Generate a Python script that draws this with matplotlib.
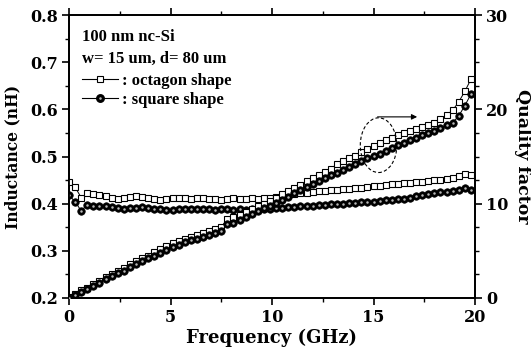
import numpy as np
import matplotlib
matplotlib.use("Agg")
import matplotlib.pyplot as plt
from matplotlib.lines import Line2D
from matplotlib.patches import Ellipse
from matplotlib.legend_handler import HandlerTuple
from matplotlib.ticker import MultipleLocator

# ---------------- data ----------------
freq_ghz = np.round(np.arange(0, 19.81, 0.3), 1)  # measurement sweep, 0.3 GHz step

L_octagon = [0.446, 0.435, 0.413, 0.422, 0.420, 0.419, 0.416, 0.413, 0.410, 0.413,
             0.414, 0.416, 0.414, 0.411, 0.410, 0.408, 0.410, 0.411, 0.412, 0.411,
             0.410, 0.413, 0.411, 0.410, 0.410, 0.407, 0.409, 0.411, 0.410, 0.410,
             0.411, 0.410, 0.411, 0.412, 0.414, 0.415, 0.418, 0.420, 0.422, 0.423,
             0.424, 0.426, 0.427, 0.428, 0.430, 0.431, 0.432, 0.433, 0.434, 0.436,
             0.437, 0.438, 0.439, 0.441, 0.442, 0.443, 0.444, 0.445, 0.446, 0.448,
             0.450, 0.451, 0.452, 0.455, 0.458, 0.462, 0.460]

L_square = [0.418, 0.404, 0.385, 0.398, 0.396, 0.395, 0.395, 0.392, 0.390, 0.388,
            0.391, 0.391, 0.392, 0.391, 0.389, 0.388, 0.387, 0.386, 0.389, 0.388,
            0.389, 0.389, 0.388, 0.388, 0.387, 0.388, 0.388, 0.387, 0.388, 0.387,
            0.388, 0.388, 0.389, 0.389, 0.390, 0.391, 0.392, 0.393, 0.394, 0.395,
            0.396, 0.397, 0.398, 0.399, 0.399, 0.400, 0.401, 0.402, 0.403, 0.404,
            0.404, 0.405, 0.407, 0.408, 0.409, 0.410, 0.413, 0.416, 0.418, 0.420,
            0.422, 0.424, 0.425, 0.426, 0.428, 0.433, 0.428]

Q_octagon = [0.1, 0.4, 0.8, 1.1, 1.5, 1.8, 2.2, 2.5, 2.9, 3.2,
             3.6, 3.9, 4.2, 4.5, 4.9, 5.2, 5.5, 5.8, 6.0, 6.3,
             6.5, 6.7, 6.9, 7.1, 7.3, 7.5, 8.4, 8.6, 8.8, 9.1,
             9.4, 9.7, 10.0, 10.3, 10.6, 11.0, 11.3, 11.7, 12.0, 12.4,
             12.7, 13.0, 13.4, 13.7, 14.2, 14.5, 14.8, 15.1, 15.5, 15.8,
             16.1, 16.4, 16.7, 17.0, 17.3, 17.5, 17.7, 17.9, 18.1, 18.3,
             18.6, 19.0, 19.4, 19.9, 20.8, 21.9, 23.2]

Q_square = [0.0, 0.3, 0.6, 1.0, 1.3, 1.6, 2.0, 2.3, 2.6, 2.9,
            3.3, 3.6, 3.9, 4.2, 4.5, 4.8, 5.1, 5.4, 5.6, 5.9,
            6.1, 6.3, 6.5, 6.7, 6.9, 7.1, 7.8, 8.0, 8.3, 8.6,
            8.9, 9.2, 9.5, 9.8, 10.1, 10.4, 10.7, 11.1, 11.4, 11.8,
            12.1, 12.4, 12.7, 13.0, 13.3, 13.6, 13.9, 14.2, 14.5, 14.8,
            15.1, 15.3, 15.6, 15.9, 16.2, 16.4, 16.7, 17.0, 17.3, 17.5,
            17.7, 18.0, 18.3, 18.6, 19.3, 20.4, 21.6]

header_lines = ["100 nm nc-Si", "w= 15 um, d= 80 um"]
series_labels = [": octagon shape", ": square shape"]

# ---------------- style ----------------
AX_FONT = ['DejaVu Serif']
TXT_FONT = ['Liberation Serif', 'DejaVu Serif']
plt.rcParams['font.family'] = AX_FONT
plt.rcParams['font.weight'] = 'bold'
plt.rcParams['axes.linewidth'] = 1.3

fig = plt.figure(figsize=(5.31, 3.54), dpi=100)
ax = fig.add_axes([69/531, 1 - 298/354, (475 - 69)/531, (298 - 15)/354])
ax2 = ax.twinx()

ms = 4.8
hl = '#b8b8b8'

def oct_plot(a, y):
    a.plot(freq_ghz, y, '-', color='black', lw=0.7, marker='s', ms=ms,
           mfc='white', mec='black', mew=0.8, zorder=3)

def sq_plot(a, y):
    a.plot(freq_ghz, y, '-', color='black', lw=0.7, marker='o', ms=ms + 0.6,
           mfc='black', mec='black', mew=0.5, zorder=4)
    a.plot(freq_ghz, y, 'o', ms=1.8, mfc=hl, mec=hl, mew=0, zorder=5)

oct_plot(ax, L_octagon)
sq_plot(ax, L_square)
oct_plot(ax2, Q_octagon)
sq_plot(ax2, Q_square)

ax.set_xlim(0, 20)
ax.set_ylim(0.2, 0.8)
ax2.set_ylim(0, 30)

ax.xaxis.set_major_locator(MultipleLocator(5))
ax.xaxis.set_minor_locator(MultipleLocator(2.5))
ax.yaxis.set_major_locator(MultipleLocator(0.1))
ax.yaxis.set_minor_locator(MultipleLocator(0.05))
ax2.yaxis.set_major_locator(MultipleLocator(10))
ax2.yaxis.set_minor_locator(MultipleLocator(2.5))

for a in (ax, ax2):
    a.tick_params(which='major', length=5, width=1.2, labelsize=11.5, pad=3, direction='out')
    a.tick_params(which='minor', length=3, width=1.0, direction='out')
ax.tick_params(axis='x', which='both', top=True)

for lab in ax.get_xticklabels() + ax.get_yticklabels() + ax2.get_yticklabels():
    lab.set_fontweight('bold')

ax.set_xlabel("Frequency (GHz)", fontsize=13, fontweight='bold', labelpad=2)
ax.set_ylabel("Inductance (nH)", fontsize=11.2, fontweight='bold', labelpad=6)
ax2.set_ylabel("Quality factor", fontsize=12.5, fontweight='bold', rotation=270, labelpad=16)

# header text
ax.text(0.032, 0.922, header_lines[0], transform=ax.transAxes, fontsize=12,
        fontweight='bold', va='center', ha='left', family=TXT_FONT)
ax.text(0.032, 0.845, header_lines[1], transform=ax.transAxes, fontsize=12,
        fontweight='bold', va='center', ha='left', family=TXT_FONT)

h_oct = Line2D([], [], color='black', lw=0.8, marker='s', ms=ms, mfc='white', mec='black', mew=0.8)
h_sq1 = Line2D([], [], color='black', lw=0.8, marker='o', ms=ms + 0.6, mfc='black', mec='black')
h_sq2 = Line2D([], [], ls='none', marker='o', ms=1.8, mfc=hl, mec=hl, mew=0)
leg = ax.legend([h_oct, (h_sq1, h_sq2)], series_labels,
                handler_map={tuple: HandlerTuple(ndivide=1)},
                loc='center left', bbox_to_anchor=(0.032, 0.733), frameon=False,
                prop={'size': 12, 'weight': 'bold', 'family': TXT_FONT},
                handlelength=2.15, handletextpad=0.25, labelspacing=0.15,
                borderaxespad=0, borderpad=0)

# annotation: dashed ellipse with arrow pointing to right axis
ell = Ellipse((15.25, 16.2), width=1.8, height=5.8, fill=False, ls=(0, (3, 2)),
              lw=0.8, color='black', zorder=6)
ax2.add_patch(ell)
ax2.annotate("", xy=(17.15, 19.2), xytext=(15.2, 19.2),
             arrowprops=dict(arrowstyle='-|>', color='black', lw=0.8,
                             mutation_scale=8, shrinkA=0, shrinkB=0), zorder=6)

fig.savefig("out.png", dpi=100)
